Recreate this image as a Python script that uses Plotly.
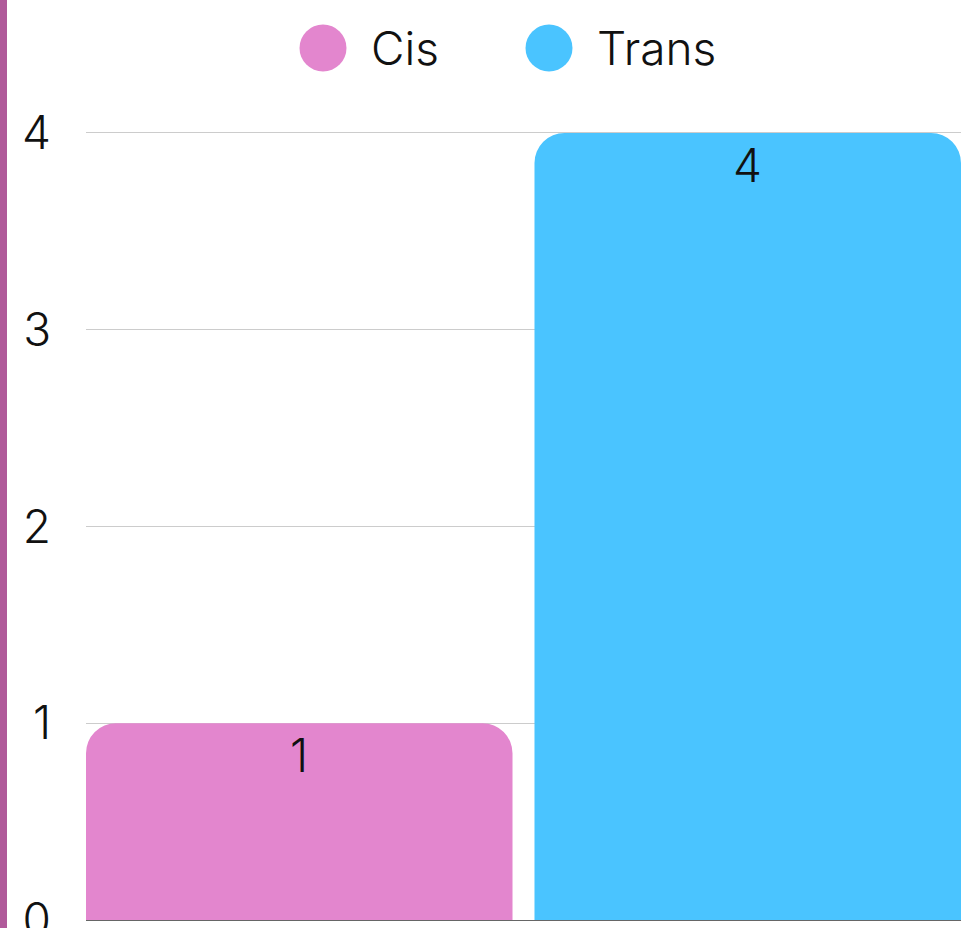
import plotly.graph_objects as go

# Data
categories = ["Cis", "Trans"]
values = [1, 4]
colors = ["#E386CE", "#4AC4FF"]
y_ticks = [0, 1, 2, 3, 4]

W, H = 961, 928
PX_PER_UNIT = 196.75
Y_MAX = 4.02
M_L, M_R, M_B = 86, 0, 8
M_T = round(H - M_B - Y_MAX * PX_PER_UNIT)
plot_w = W - M_L - M_R
plot_h = H - M_T - M_B
FONT = "Inter"
FS = 46
BAR_W = 0.951

fig = go.Figure()
annotations = []
for i, (name, val, col) in enumerate(zip(categories, values, colors)):
    fig.add_trace(go.Bar(
        x=[i], y=[val], name=name, width=BAR_W,
        marker=dict(color=col, line=dict(width=0)),
        textposition="none", showlegend=False,
    ))
    # value label just below the top of each bar
    annotations.append(dict(
        x=i, y=val, xref="x", yref="y", text=f"{val}", showarrow=False,
        yanchor="middle", xanchor="center", yshift=-32,
        font=dict(family=FONT, size=FS, color="#111111", weight=300),
    ))

def px_to_paper_x(px):
    return (px - M_L) / plot_w

def px_to_paper_y(py):
    return (H - M_B - py) / plot_h

# Custom legend: circle swatch + label for each series
legend_items = [(323, 369), (549, 595)]
shapes = []
for (cx, tx), name, col in zip(legend_items, categories, colors):
    shapes.append(dict(
        type="circle", xref="paper", yref="paper",
        xsizemode="pixel", ysizemode="pixel",
        xanchor=px_to_paper_x(cx), yanchor=px_to_paper_y(48),
        x0=-23.5, x1=23.5, y0=-23.5, y1=23.5,
        fillcolor=col, line=dict(width=0),
    ))
    annotations.append(dict(
        text=name, xref="paper", yref="paper",
        x=px_to_paper_x(tx), y=px_to_paper_y(48),
        xanchor="left", yanchor="middle", showarrow=False,
        font=dict(family=FONT, size=FS, color="#111111", weight=300),
    ))

# Accent strip on the left edge
shapes.append(dict(
    type="rect", xref="paper", yref="paper",
    x0=px_to_paper_x(0), x1=px_to_paper_x(7), y0=px_to_paper_y(H), y1=px_to_paper_y(0),
    fillcolor="#B05A9A", line=dict(width=0), layer="below",
))

fig.update_layout(
    width=W, height=H,
    margin=dict(l=M_L, r=M_R, t=M_T, b=M_B, pad=0, autoexpand=False),
    paper_bgcolor="white", plot_bgcolor="white",
    barmode="overlay", barcornerradius=30,
    font=dict(family=FONT, size=FS, color="#111111"),
    shapes=shapes, annotations=annotations,
    showlegend=False,
    xaxis=dict(
        range=[-BAR_W / 2, 1 + BAR_W / 2], showticklabels=False, showgrid=False,
        zeroline=False, showline=True, linecolor="#666666", linewidth=1, ticks="",
        automargin=False,
    ),
    yaxis=dict(
        range=[0, Y_MAX], tickvals=y_ticks, showgrid=True, gridcolor="#CCCCCC",
        gridwidth=1, zeroline=False, showline=False, ticks="",
        ticklabelstandoff=34, ticklabeloverflow="allow", automargin=False,
        tickfont=dict(family=FONT, size=FS, color="#111111", weight=300),
    ),
)

fig.write_html("out.html")
